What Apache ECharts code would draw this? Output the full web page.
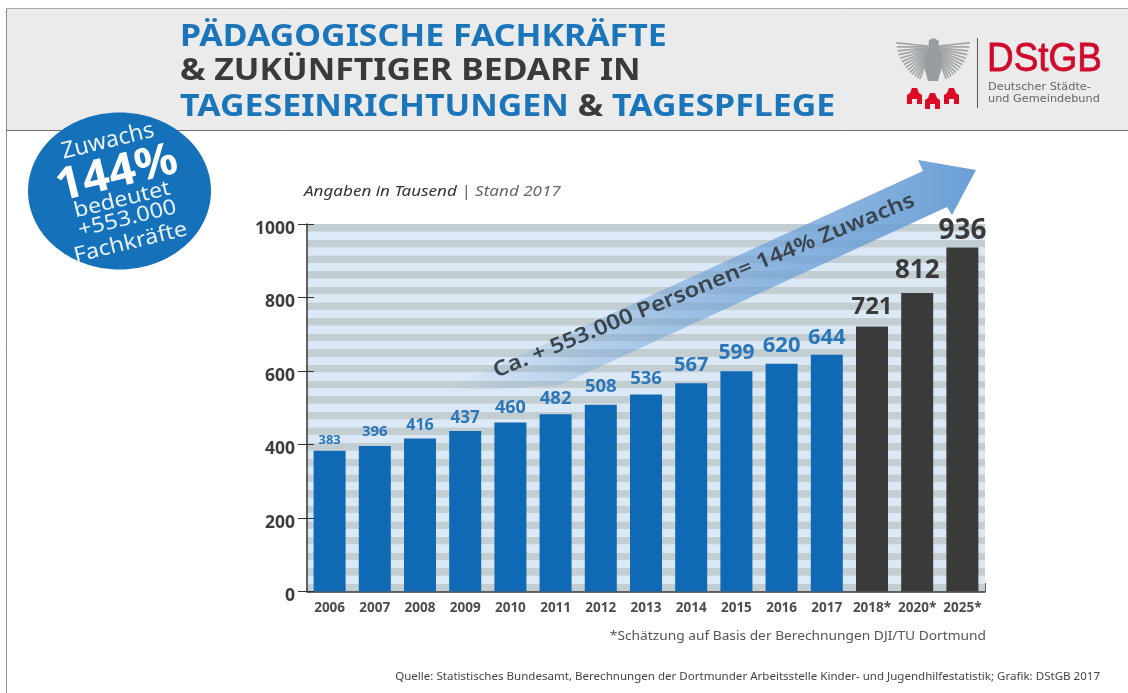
<!DOCTYPE html>
<html>
<head>
    <meta charset="utf-8">
    <title>Pädagogische Fachkräfte</title>
    <style>
        html, body { margin: 0; padding: 0; background: #fff; }
    </style>
</head>
<body>
<div id="main" style="width: 1128px;height:693px;"></div>
<script src="https://cdn.jsdelivr.net/npm/echarts@6/dist/echarts.min.js"></script>
<script>
var years = ['2006','2007','2008','2009','2010','2011','2012','2013','2014','2015','2016','2017','2018*','2020*','2025*'];
var values = [383,396,416,437,460,482,508,536,567,599,620,644,721,812,936];
var yTicks = [0,200,400,600,800,1000];

// groesse und abstand der wertebeschriftung je balken
var labelSizes = [13,15,16,17,18,18.5,18.5,18.5,20,21,22,22,24,26,28];
var labelGaps = [4,7,5,4,5.5,6.5,9,6.5,8,7.5,7,6,7,9,2.5];

var FONT = '"Noto Sans", sans-serif';
var BLUE = '#1069b5';
var DARK = '#3a3a3a';

// schraffur hinter den balken, 47 baender von 0 bis oben
var stripeBands = 47;

function txt(x, y, text, size, color, scaleX, extra) {
    var style = { x: 0, y: 0, text: text, fontFamily: FONT, fontSize: size, fill: color, textVerticalAlign: 'middle' };
    for (var k in (extra || {})) style[k] = extra[k];
    return { type: 'text', z: 20, x: x, y: y, scaleX: scaleX, style: style };
}

function badgeLine(x, y, text, size, weight, scaleX) {
    return { type: 'text', z: 20, x: x, y: y, scaleX: scaleX, style: { x: 0, y: 0, text: text, fontFamily: FONT, fontSize: size, fontWeight: weight, fill: weight === 'bold' ? '#fff' : '#e8f2fa', textAlign: 'center', textVerticalAlign: 'middle' } };
}

// bundesadler, nur angedeutet
function eagle() {
    var els = [];
    var cx = 933, cy = 46;
    for (var i = 0; i < 14; i++) {
        var a = -0.1 + i * 0.1;
        var len = 32 - i * 0.7;
        [-1, 1].forEach(function (side) {
            els.push({ type: 'line', z: 20, shape: {
                x1: cx + side * 5, y1: cy + i * 0.9,
                x2: cx + side * (5 + len * Math.cos(a)), y2: cy + i * 0.9 + len * Math.sin(a)
            }, style: { stroke: '#a2a5a7', lineWidth: 1.7 } });
        });
    }
    els.push({ type: 'polygon', z: 21, shape: { points: [[929,40],[934,38],[939,41],[938,49],[942,55],[941,70],[938,81],[928,81],[925,70],[924,55],[928,49]] }, style: { fill: '#9a9d9f' } });
    return els;
}

function castle(x, y) {
    return [
        { type: 'polygon', z: 20, shape: { points: [[x,y+16],[x,y+7],[x+3,y+5],[x+5,y],[x+10,y],[x+12,y+5],[x+15,y+7],[x+15,y+16],[x+10,y+16],[x+10,y+11],[x+5,y+11],[x+5,y+16]] }, style: { fill: '#dc0a24' } }
    ];
}

var graphics = [
    { type: 'rect', z: 1, shape: { x: 7, y: 8, width: 1121, height: 122 }, style: { fill: '#ebebeb' } },
    { type: 'line', z: 1, shape: { x1: 6.5, y1: 8, x2: 6.5, y2: 693 }, style: { stroke: '#8c8c8c', lineWidth: 1 } },
    { type: 'line', z: 1, shape: { x1: 6, y1: 8.5, x2: 1128, y2: 8.5 }, style: { stroke: '#a8a8a8', lineWidth: 1 } },
    { type: 'line', z: 1, shape: { x1: 6, y1: 130.5, x2: 1128, y2: 130.5 }, style: { stroke: '#6e6e6e', lineWidth: 1 } },

    // titel
    txt(180, 37, 'PÄDAGOGISCHE FACHKRÄFTE', 30, '#1a75bb', 1.13, { fontWeight: 'bold' }),
    txt(180, 71, '& ZUKÜNFTIGER BEDARF IN', 30, '#3a3a3a', 1.13, { fontWeight: 'bold' }),
    txt(180, 107, '{b|TAGESEINRICHTUNGEN} {d|&} {b|TAGESPFLEGE}', 30, '#1a75bb', 1.13, { fontWeight: 'bold', rich: {
        b: { fontFamily: FONT, fontSize: 30, fontWeight: 'bold', fill: '#1a75bb' },
        d: { fontFamily: FONT, fontSize: 30, fontWeight: 'bold', fill: '#3a3a3a' }
    } }),

    // logo
    { type: 'line', z: 20, shape: { x1: 977.5, y1: 38, x2: 977.5, y2: 108 }, style: { stroke: '#555', lineWidth: 1 } },
    { type: 'text', z: 20, x: 987, y: 60, scaleX: 0.9, style: { x: 0, y: 0, text: 'DStGB', fontFamily: '"Liberation Sans", sans-serif', fontSize: 41, fill: '#cf0a2c', stroke: '#cf0a2c', lineWidth: 0.8, textVerticalAlign: 'middle' } },
    { type: 'text', z: 20, x: 988, y: 87, scaleX: 1.13, style: { x: 0, y: 0, text: 'Deutscher Städte-', fontFamily: '"DejaVu Sans", sans-serif', fontSize: 10, fill: '#666', textVerticalAlign: 'middle' } },
    { type: 'text', z: 20, x: 988, y: 99, scaleX: 1.13, style: { x: 0, y: 0, text: 'und Gemeindebund', fontFamily: '"DejaVu Sans", sans-serif', fontSize: 10, fill: '#666', textVerticalAlign: 'middle' } },

    // kreis links oben
    { type: 'ellipse', z: 15, shape: { cx: 119.5, cy: 191, rx: 91.5, ry: 78.5 }, style: { fill: '#1671bb' } },
    { type: 'group', z: 16, x: 119, y: 191, rotation: 0.24, children: [
        badgeLine(1, -51, 'Zuwachs', 23, 'normal', 1),
        badgeLine(2, -17, '144%', 45, 'bold', 1.05),
        badgeLine(1, 9.5, 'bedeutet', 21, 'normal', 1.1),
        badgeLine(1.5, 29, '+553.000', 21, 'normal', 1.12),
        badgeLine(-1, 53, 'Fachkräfte', 21, 'normal', 1.12)
    ] },

    // hinweise
    txt(304, 192, '{a|Angaben in Tausend} {c|| Stand 2017}', 15, '#333', 1.137, { rich: {
        a: { fontFamily: FONT, fontSize: 15, fontStyle: 'italic', fill: '#333' },
        c: { fontFamily: FONT, fontSize: 15, fontStyle: 'italic', fill: '#666' }
    } }),
    txt(986, 636, '*Schätzung auf Basis der Berechnungen DJI/TU Dortmund', 12.5, '#555', 1.1, { textAlign: 'right' }),
    txt(1100, 677, 'Quelle: Statistisches Bundesamt, Berechnungen der Dortmunder Arbeitsstelle Kinder- und Jugendhilfestatistik; Grafik: DStGB 2017', 10.5, '#444', 1.1, { textAlign: 'right' }),

    // pfeil
    { type: 'polygon', z: 1, shape: { points: [[440,392],[923,171],[918,160],[976,170],[952,215],[947,207],[560,385]] }, style: {
        fill: new echarts.graphic.LinearGradient(0, 0, 1, 0, [
            { offset: 0, color: 'rgba(106,159,214,0)' },
            { offset: 0.45, color: 'rgba(106,159,214,0.55)' },
            { offset: 1, color: 'rgba(106,159,214,1)' }
        ], false)
    } },
    { type: 'text', z: 20, x: 704, y: 286, rotation: 0.39, scaleX: 1.13, style: { x: 0, y: 0, text: 'Ca. + 553.000 Personen= 144% Zuwachs', fontFamily: FONT, fontSize: 21, fontWeight: 600, fill: '#39444d', textAlign: 'center', textVerticalAlign: 'middle' } },

    { type: 'line', z: 20, shape: { x1: 985.5, y1: 583, x2: 985.5, y2: 592 }, style: { stroke: '#666', lineWidth: 1 } }
].concat(eagle(), castle(907, 88), castle(925, 93), castle(944, 88));

var myChart = echarts.init(document.getElementById('main'));

myChart.setOption({
    animation: false,
    backgroundColor: '#fff',
    grid: { left: 307, top: 224, width: 678, height: 367.5, containLabel: false },
    xAxis: {
        type: 'category',
        data: years,
        axisLine: { lineStyle: { color: '#333', width: 1.5 } },
        axisTick: { show: false },
        axisLabel: { interval: 0, margin: 10, fontFamily: FONT, fontSize: 13.5, fontWeight: 'bold', color: '#4d4d4d' }
    },
    yAxis: [
        {
            type: 'value', min: 0, max: 1000, interval: 200,
            axisLine: { show: true, lineStyle: { color: '#333', width: 1.5 } },
            axisTick: { show: true, length: 9, lineStyle: { color: '#333' } },
            splitLine: { show: false },
            axisLabel: { margin: 12, verticalAlign: 'top', lineHeight: 10, fontFamily: FONT, fontSize: 17.5, fontWeight: 'bold', color: '#3d3d3d',
                formatter: function (v) { return yTicks.indexOf(v) >= 0 ? String(v) : ''; } }
        },
        {
            type: 'value', min: 0, max: stripeBands, interval: 1, position: 'left',
            axisLine: { show: false }, axisTick: { show: false }, axisLabel: { show: false },
            splitLine: { show: false },
            splitArea: { show: true, areaStyle: { color: ['#c3ced3', '#dbe8f6'], opacity: 1 } }
        },
        {
            // nur die kurzen striche nach innen
            type: 'value', min: 0, max: 1000, interval: 200, position: 'left',
            axisLine: { show: false }, axisLabel: { show: false }, splitLine: { show: false },
            axisTick: { show: true, inside: true, length: 7, lineStyle: { color: '#333' } }
        }
    ],
    series: [{
        type: 'bar',
        yAxisIndex: 0,
        barWidth: 32,
        z: 10,
        data: values.map(function (v, i) {
            var forecast = years[i].indexOf('*') > 0;
            return {
                value: v,
                itemStyle: { color: forecast ? DARK : BLUE },
                label: { fontSize: labelSizes[i], distance: labelGaps[i], color: forecast ? DARK : '#2a76b8' }
            };
        }),
        label: { show: true, position: 'top', fontFamily: FONT, fontWeight: 'bold' }
    }],
    graphic: graphics
});
</script>
</body>
</html>
